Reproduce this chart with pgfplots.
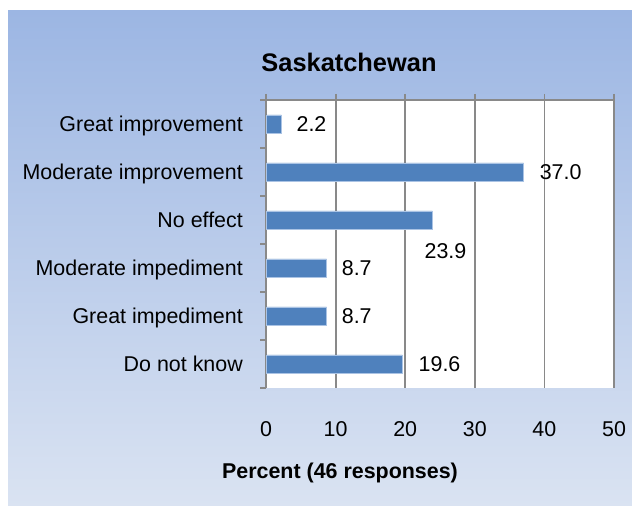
\documentclass[border=0pt]{standalone}
\usepackage{pgfplots}
\pgfplotsset{compat=1.18}
\usepackage{pgfplotstable}
\usepackage{fontspec}
\setmainfont{Liberation Sans}
\definecolor{barblue}{RGB}{79,129,189}
\definecolor{baredge}{RGB}{170,195,228}
\definecolor{gridgray}{RGB}{137,137,137}
\definecolor{bgtop}{RGB}{156,182,227}
\definecolor{bgbot}{RGB}{218,227,242}
\pgfplotstableread{
p v lab dx dy
5 2.2 2.2 15 0
4 37.0 37.0 16 0
3 23.9 23.9 -8 -31
2 8.7 8.7 15 0
1 8.7 8.7 15 0
0 19.6 19.6 16 0
}\datatable
\begin{document}
\fontsize{21.5}{25}\selectfont
\begin{tikzpicture}
\path[use as bounding box] (0,0) rectangle (632bp,506bp);
\fill[white] (0,0) rectangle (632bp,506bp);
\shade[top color=bgtop, bottom color=bgbot] (8bp,0) rectangle (632bp,495bp);
\begin{axis}[
  at={(266bp,118bp)}, anchor=south west,
  scale only axis, width=348bp, height=288bp,
  xmin=0, xmax=50, ymin=-0.5, ymax=5.5,
  axis background/.style={fill=white},
  axis line style={draw=none},
  /pgf/number format/assume math mode=true,
  xtick={0,10,...,50},
  xtick pos=right, xticklabel pos=left,
  tick align=outside, major tick length=6bp,
  xtick style={draw=gridgray, line width=1.8bp},
  xmajorgrids=true, ymajorgrids=false,
  grid style={draw=gridgray, line width=1.8bp},
  xticklabel style={anchor=base, yshift=-43bp, inner sep=0pt},
  ytick={0,...,5},
  yticklabels={Do not know, Great impediment, Moderate impediment, No effect, Moderate improvement, Great improvement},
  ytick pos=left,
  ytick style={draw=none},
  yticklabel style={anchor=base east, yshift=-7.6bp, inner sep=0pt, xshift=-17bp},
  extra y ticks={-0.5,0.5,1.5,2.5,3.5,4.5,5.5},
  extra y tick labels={},
  extra y tick style={ytick style={draw=gridgray, line width=1.8bp}, grid=none},
  every axis title/.style={at={(axis description cs:0.2385,1)}, anchor=base, yshift=28bp, font=\bfseries\fontsize{25.5}{30}\selectfont},
  title={Saskatchewan},
  every axis x label/.style={at={(axis description cs:0.2126,0)}, anchor=base, yshift=-90bp, font=\bfseries},
  xlabel={Percent (46 responses)},
  after end axis/.code={\draw[gridgray, line width=1.8bp] (rel axis cs:0,1) -- (rel axis cs:1,1);},
]
\addplot[xbar, bar width=18bp, fill=barblue, draw=baredge, line width=0.6bp,
  point meta=explicit symbolic,
  nodes near coords,
  visualization depends on={\thisrow{dx} \as \dx},
  visualization depends on={\thisrow{dy} \as \dy},
  nodes near coords style={anchor=west, inner sep=0pt, xshift=\dx bp, yshift=\dy bp, text=black}]
  table[x=v, y=p, meta=lab] {\datatable};
\end{axis}
\end{tikzpicture}
\end{document}
